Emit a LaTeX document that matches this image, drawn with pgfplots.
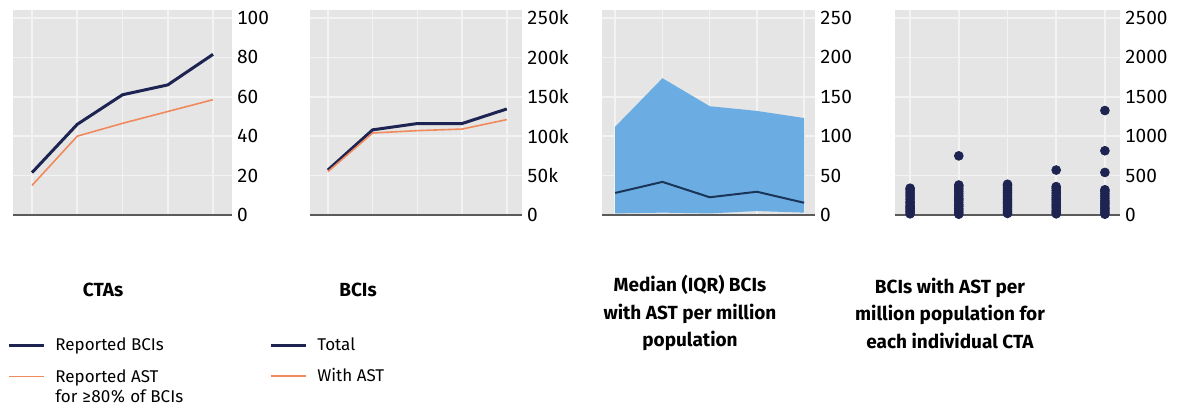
\documentclass[border=0pt]{standalone}
\usepackage{pgfplots}
\pgfplotsset{compat=1.18}
\usepackage{fontspec}
\setmainfont{Fira Sans}[Numbers=Monospaced]

\definecolor{navy}{HTML}{1E2452}
\definecolor{orng}{HTML}{F08A5D}
\definecolor{iqr}{HTML}{6BADE2}
\definecolor{median}{HTML}{1B3558}
\definecolor{panelbg}{HTML}{E5E5E5}
\definecolor{gridc}{HTML}{F3F3F3}
\definecolor{axgray}{HTML}{5A5A5A}

\pgfplotsset{
  panel/.style={
    scale only axis,
    height=102.5pt,
    axis background/.style={fill=panelbg},
    axis x line=bottom,
    axis y line=right,
    x axis line style={draw=axgray, line width=0.8pt, -},
    y axis line style={draw=none},
    xtick={0,1,2,3,4},
    xticklabels={},
    xmajorgrids, ymajorgrids,
    grid style={gridc, line width=0.8pt},
    major tick length=0pt,
    ymin=0,
    scaled y ticks=false,
    ticklabel style={font=\fontsize{9.5}{10}\selectfont},
    yticklabel style={anchor=west, xshift=-1pt},
    legend cell align=left,
    legend image code/.code={\draw[##1] (0pt,0pt) -- (17.5pt,0pt);},
    legend style={draw=none, fill=none, inner sep=0pt, column sep=4pt,
      row sep=5.5pt, font=\fontsize{8.5}{10}\selectfont,
      nodes={inner sep=1pt}, anchor=north west},
  },
}

\begin{document}
\begin{tikzpicture}
\useasboundingbox (0pt,0pt) rectangle (589.5pt,-206pt);

% CTAs reporting
\begin{axis}[panel, width=109.5pt, at={(6.5pt,-107.5pt)}, anchor=south west,
  xmin=-0.42, xmax=4.42, ymax=104,
  ytick={0,20,40,60,80,100},
  yticklabels={0,20,40,60,80,100},
  legend style={at={(rel axis cs:0,0)}, xshift=-3pt, yshift=-60pt}]
\addplot[navy, line width=1.5pt] coordinates {(0,21.5) (1,46) (2,61) (3,66) (4,81.5)};
\addlegendentry{Reported BCIs}
\addplot[orng, line width=0.8pt] coordinates {(0,15) (1,40) (2,46.5) (3,52.5) (4,58.5)};
\addlegendentry{\begin{tabular}[t]{@{}l@{}}Reported AST\\for ≥80\% of BCIs\end{tabular}}
\end{axis}

% BCIs total and with AST
\begin{axis}[panel, width=106pt, at={(155pt,-107.5pt)}, anchor=south west,
  xmin=-0.4, xmax=4.34, ymax=260000,
  ytick={0,50000,100000,150000,200000,250000},
  yticklabels={0,50k,100k,150k,200k,250k},
  legend style={at={(rel axis cs:0,0)}, xshift=-20.5pt, yshift=-60pt}]
\addplot[navy, line width=1.5pt] coordinates {(0,57000) (1,108000) (2,116000) (3,116000) (4,134500)};
\addlegendentry{Total}
\addplot[orng, line width=0.8pt] coordinates {(0,55000) (1,104000) (2,107000) (3,109000) (4,121000)};
\addlegendentry{With AST}
\end{axis}

% Median (IQR) per million population
\begin{axis}[panel, width=106.5pt, at={(301pt,-107.5pt)}, anchor=south west,
  xmin=-0.28, xmax=4.23, ymax=260,
  ytick={0,50,100,150,200,250},
  yticklabels={0,50,100,150,200,250}]
\addplot[fill=iqr, draw=none] coordinates {(0,112) (1,173.5) (2,138) (3,132) (4,123)
  (4,3) (3,5) (2,2) (1,3) (0,2)} -- cycle;
\addplot[median, line width=1pt] coordinates {(0,28) (1,42) (2,22.5) (3,29.5) (4,15.5)};
\end{axis}

% Individual CTAs per million population
\begin{axis}[panel, width=112.5pt, at={(447.5pt,-107.5pt)}, anchor=south west,
  xmin=-0.31, xmax=4.31, ymax=2600,
  ytick={0,500,1000,1500,2000,2500},
  yticklabels={0,500,1000,1500,2000,2500}]
\addplot[only marks, mark=*, mark size=2.2pt, navy, mark options={draw=none}] table {
x y
0 15
0 40
0 60
0 85
0 100
0 120
0 150
0 170
0 200
0 230
0 260
0 290
0 320
0 340
1 10
1 30
1 55
1 80
1 110
1 130
1 160
1 190
1 210
1 240
1 270
1 300
1 330
1 360
1 380
1 750
2 20
2 45
2 70
2 95
2 120
2 150
2 175
2 200
2 230
2 260
2 285
2 310
2 340
2 370
2 390
3 15
3 35
3 60
3 90
3 115
3 140
3 170
3 195
3 220
3 250
3 280
3 310
3 340
3 360
3 570
4 10
4 30
4 55
4 80
4 100
4 130
4 155
4 180
4 210
4 240
4 270
4 300
4 320
4 540
4 815
4 1325
};
\end{axis}

% panel titles
\begin{scope}[every node/.style={font=\bfseries\fontsize{9.5}{13.75}\selectfont, align=center}]
\node at (51.5pt,-145pt) {CTAs};
\node at (179pt,-145pt) {BCIs};
\node at (345pt,-156.5pt) {Median (IQR) BCIs\\with AST per million\\population};
\node at (475pt,-156.5pt) {BCIs with AST per\\million population for\\each individual CTA};
\end{scope}
\end{tikzpicture}
\end{document}
